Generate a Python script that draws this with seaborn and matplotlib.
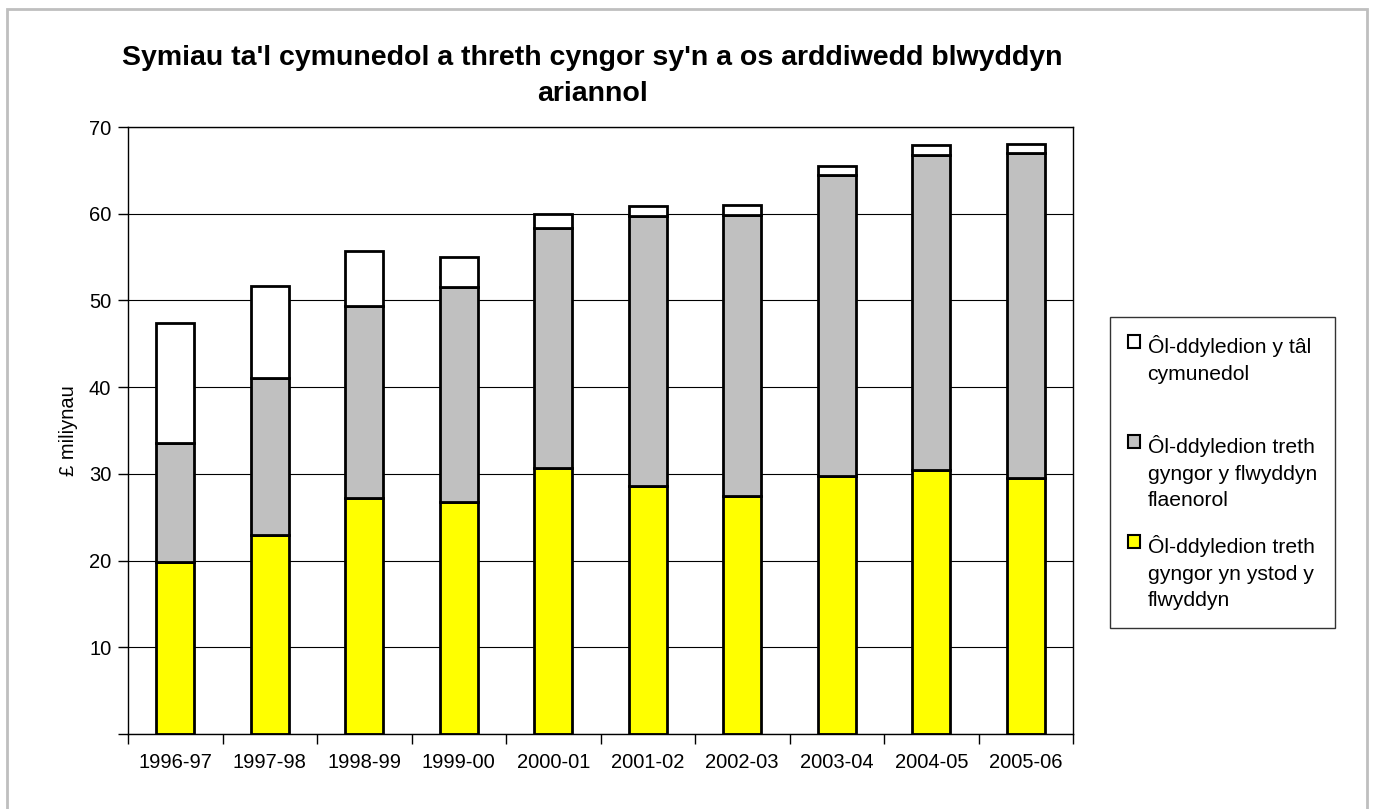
import numpy as np
import pandas as pd
import seaborn as sns
import matplotlib
matplotlib.use("Agg")
import matplotlib.pyplot as plt
from matplotlib.patches import Patch, Rectangle
from matplotlib.ticker import FuncFormatter

# data (£ millions)
years = ["1996-97", "1997-98", "1998-99", "1999-00", "2000-01",
         "2001-02", "2002-03", "2003-04", "2004-05", "2005-06"]
in_year = [19.8, 22.9, 27.2, 26.7, 30.7, 28.6, 27.5, 29.7, 30.4, 29.5]
previous_years = [13.8, 18.2, 22.1, 24.8, 27.6, 31.1, 32.4, 34.8, 36.4, 37.5]
community_charge = [13.8, 10.6, 6.4, 3.5, 1.7, 1.2, 1.1, 1.0, 1.1, 1.0]

# trailing newline on the first label keeps the three entries evenly spaced
labels = ["Ôl-ddyledion y tâl\ncymunedol\n",
          "Ôl-ddyledion treth\ngyngor y flwyddyn\nflaenorol",
          "Ôl-ddyledion treth\ngyngor yn ystod y\nflwyddyn"]
colors = ["#FFFFFF", "#C0C0C0", "#FFFF00"]

df = pd.DataFrame({"year": years, "in_year": in_year,
                   "previous": previous_years, "community": community_charge})
df["base_prev"] = df["in_year"]
df["base_comm"] = df["in_year"] + df["previous"]

sns.set_theme(style="white")
plt.rcParams["font.family"] = ["Liberation Sans", "DejaVu Sans"]
plt.rcParams.update({"text.color": "black", "axes.labelcolor": "black",
                     "xtick.color": "black", "ytick.color": "black"})

W, H = 1374, 809
fig = plt.figure(figsize=(W / 100, H / 100), dpi=100)
ax = fig.add_axes([128 / W, 75 / H, 945 / W, 607 / H])

bar_kw = dict(ax=ax, width=0.4, edgecolor="black", linewidth=2,
              saturation=1, errorbar=None)
sns.barplot(data=df, x="year", y="in_year", color=colors[2], **bar_kw)
sns.barplot(data=df, x="year", y="previous", color=colors[1],
            bottom=df["base_prev"].to_numpy(), **bar_kw)
sns.barplot(data=df, x="year", y="community", color=colors[0],
            bottom=df["base_comm"].to_numpy(), **bar_kw)

ax.set_xlim(-0.5, len(years) - 0.5)
ax.set_ylim(0, 70)
ax.set_yticks(range(0, 71, 10))
ax.yaxis.set_major_formatter(FuncFormatter(lambda v, p: "" if v == 0 else f"{v:.0f}"))
ax.yaxis.grid(True, color="black", linewidth=0.8)
ax.set_axisbelow(True)

ax.set_xticks(range(len(years)))
ax.set_xticklabels(years)
ax.set_xticks(np.arange(-0.5, len(years), 1), minor=True)
ax.tick_params(axis="x", which="major", length=0, pad=14, labelsize=14.5)
ax.tick_params(axis="x", which="minor", bottom=True, length=7, width=1, color="black")
ax.tick_params(axis="y", left=True, length=7, width=1, color="black", pad=5,
               labelsize=14.5)

ax.set_xlabel("")
ax.set_ylabel("£ miliynau", fontsize=14.5, labelpad=8)
for s in ax.spines.values():
    s.set_color("black")
    s.set_linewidth(1)

fig.text(592 / W, (H - 76) / H,
         "Symiau ta'l cymunedol a threth cyngor sy'n a os arddiwedd blwyddyn\nariannol",
         ha="center", va="center", fontsize=20.5, fontweight="bold", linespacing=1.48)

handles = [Patch(facecolor=c, edgecolor="black", linewidth=1.5) for c in colors]
leg = fig.legend(handles, labels, loc="upper left",
                 bbox_to_anchor=(1110 / W, (H - 317) / H), fontsize=15.2,
                 frameon=True, fancybox=False, edgecolor="black",
                 handlelength=0.58, handleheight=0.58, handletextpad=0.35,
                 labelspacing=1.15, borderpad=0.85, borderaxespad=0)
leg.get_frame().set_linewidth(1)
for t in leg.get_texts():
    t.set_linespacing(1.52)
# put each legend swatch beside the first line of its label
for col in leg._legend_handle_box.get_children():
    for row in col.get_children():
        row.align = "top"

# light grey outer border of the chart area
fig.patches.append(Rectangle((7 / W, -0.02), 1360 / W, (H - 9) / H + 0.02,
                             transform=fig.transFigure, fill=False,
                             edgecolor="#BFBFBF", linewidth=2))

fig.savefig("out.png", dpi=100)
